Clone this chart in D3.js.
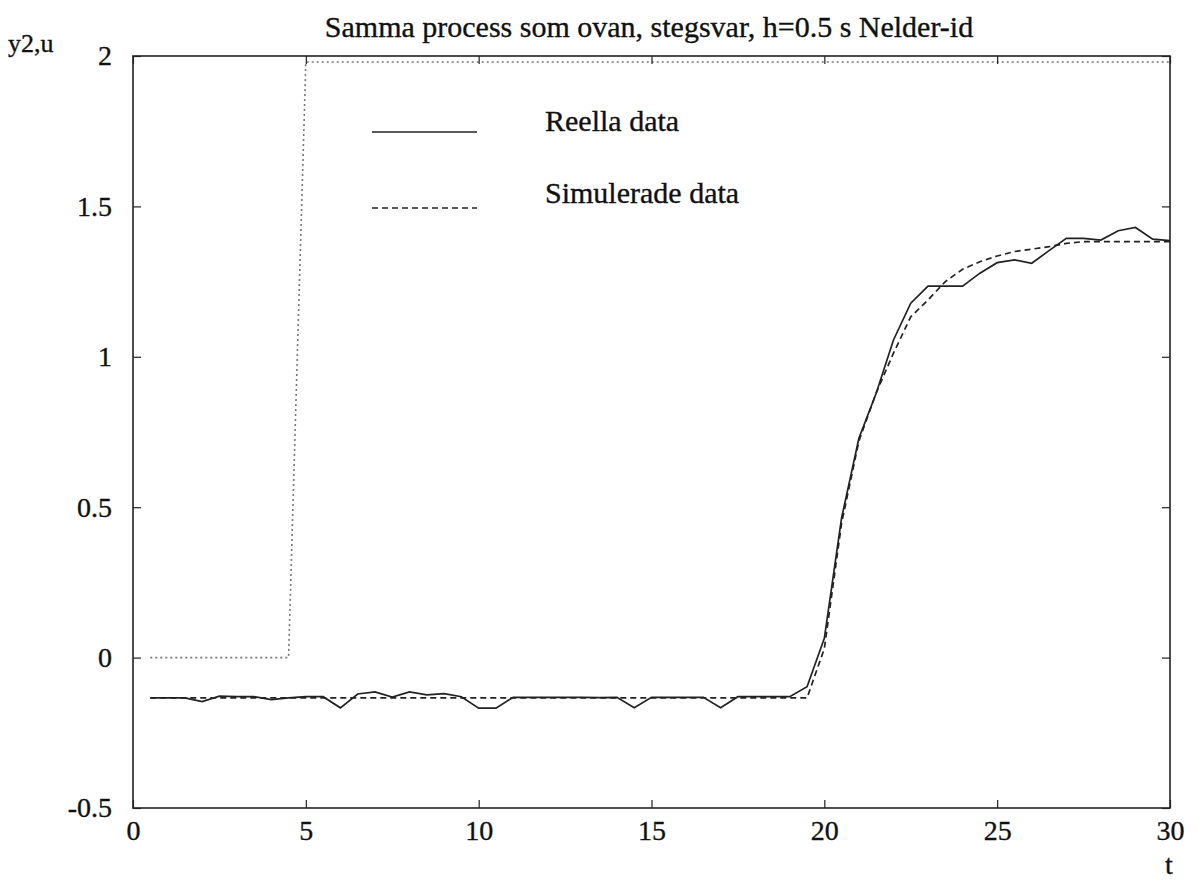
<!DOCTYPE html>
<html><head><meta charset="utf-8">
<script src="https://cdn.jsdelivr.net/npm/d3@7"></script>
<style>body{margin:0;background:#fff} svg text{font-family:"Liberation Serif","Times New Roman","DejaVu Serif",serif !important; fill:#111; stroke:#111; stroke-width:0.35px;}</style>
</head><body>
<svg id="c" width="1198" height="882"></svg>
<script>
const tReal = d3.range(1, 61).map(i => i * 0.5);
const yReal = [-0.134,-0.134,-0.134,-0.146,-0.128,-0.130,-0.130,-0.140,-0.134,-0.130,
  -0.130,-0.167,-0.121,-0.114,-0.131,-0.114,-0.124,-0.120,-0.130,-0.168,
  -0.168,-0.132,-0.132,-0.132,-0.132,-0.132,-0.133,-0.132,-0.167,-0.132,
  -0.132,-0.132,-0.132,-0.167,-0.130,-0.130,-0.130,-0.130,-0.097,0.064,
  0.465,0.729,0.879,1.056,1.178,1.235,1.235,1.235,1.278,1.313,
  1.322,1.311,1.353,1.394,1.394,1.388,1.419,1.430,1.391,1.386];
const ySim = [-0.134,-0.134,-0.134,-0.134,-0.134,-0.134,-0.134,-0.134,-0.134,-0.134,
  -0.134,-0.134,-0.134,-0.134,-0.134,-0.134,-0.134,-0.134,-0.134,-0.134,
  -0.134,-0.134,-0.134,-0.134,-0.134,-0.134,-0.134,-0.134,-0.134,-0.134,
  -0.134,-0.134,-0.134,-0.134,-0.134,-0.134,-0.134,-0.134,-0.134,0.030,
  0.447,0.720,0.880,1.012,1.133,1.189,1.250,1.291,1.316,1.335,
  1.350,1.358,1.366,1.377,1.383,1.383,1.383,1.383,1.383,1.383];
const uVal = tReal.map(t => t < 5 ? 0 : 1.98);
const xTicks = [0,5,10,15,20,25,30];
const yTicks = [-0.5,0,0.5,1,1.5,2];

const svg = d3.select('#c');
const L=133,R=1170,T=56,B=808;
const x = d3.scaleLinear().domain([0,30]).range([L,R]);
const y = d3.scaleLinear().domain([-0.5,2]).range([B,T]);

const line = d3.line().x(d=>x(d[0])).y(d=>y(d[1]));
svg.append('path').attr('d', line(tReal.map((t,i)=>[t,uVal[i]])))
  .attr('fill','none').attr('stroke','#777').attr('stroke-width',1.6).attr('stroke-dasharray','2,3');
svg.append('path').attr('d', line(tReal.map((t,i)=>[t,ySim[i]])))
  .attr('fill','none').attr('stroke','#222').attr('stroke-width',1.7).attr('stroke-dasharray','6,4');
svg.append('path').attr('d', line(tReal.map((t,i)=>[t,yReal[i]])))
  .attr('fill','none').attr('stroke','#222').attr('stroke-width',1.7);

svg.append('rect').attr('x',L).attr('y',T).attr('width',R-L).attr('height',B-T)
  .attr('fill','none').attr('stroke','#222').attr('stroke-width',1.6);

const ax = (g, axis) => { g.call(axis); g.select('.domain').remove();
  g.selectAll('line').attr('stroke','#222').attr('stroke-width',1.2);
  g.selectAll('text').attr('font-size',28); };
svg.append('g').attr('transform',`translate(0,${B})`).call(g=>ax(g,
  d3.axisBottom(x).tickValues(xTicks).tickSize(-8).tickPadding(12).tickFormat(d3.format('d'))));
svg.append('g').attr('transform',`translate(0,${T})`).call(g=>{ax(g,
  d3.axisTop(x).tickValues(xTicks).tickSize(-8)); g.selectAll('text').remove();});
svg.append('g').attr('transform',`translate(${L},0)`).call(g=>ax(g,
  d3.axisLeft(y).tickValues(yTicks).tickSize(-8).tickPadding(21).tickFormat(d=>String(d))));
svg.append('g').attr('transform',`translate(${R},0)`).call(g=>{ax(g,
  d3.axisRight(y).tickValues(yTicks).tickSize(-8)); g.selectAll('text').remove();});

svg.append('text').attr('x',649).attr('y',37).attr('text-anchor','middle')
  .attr('font-size',30)
  .text('Samma process som ovan, stegsvar, h=0.5 s Nelder-id');
svg.append('text').attr('x',8).attr('y',52).attr('font-size',26).text('y2,u');
svg.append('text').attr('x',1169).attr('y',874).attr('text-anchor','middle').attr('font-size',28).text('t');

const leg = [{lab:'Reella data',dash:null,ly:132,ty:131},{lab:'Simulerade data',dash:'6,4',ly:208,ty:203}];
leg.forEach(d=>{
  svg.append('line').attr('x1',372).attr('x2',477).attr('y1',d.ly).attr('y2',d.ly)
    .attr('stroke','#222').attr('stroke-width',1.7).attr('stroke-dasharray',d.dash);
  svg.append('text').attr('x',545).attr('y',d.ty).attr('font-size',30).text(d.lab);
});
</script>
</body></html>
